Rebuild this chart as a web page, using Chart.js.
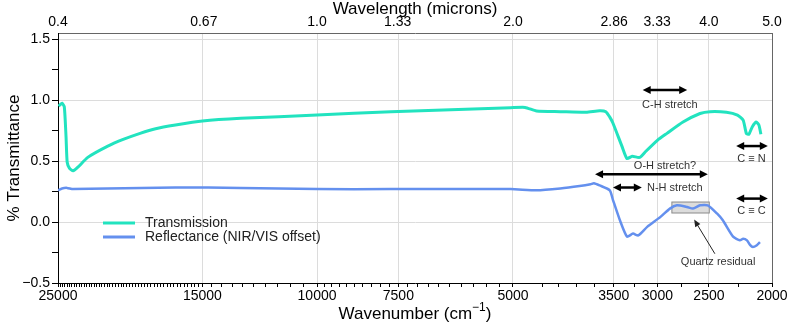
<!DOCTYPE html>
<html>
<head>
<meta charset="utf-8">
<script src="https://cdn.jsdelivr.net/npm/chart.js@4.4.0/dist/chart.umd.min.js"></script>
<style>
  html, body { margin: 0; padding: 0; background: #fff; }
</style>
</head>
<body>
<canvas id="graficoEspectro" width="789" height="327"></canvas>
<script>
const transWn = [24950, 24820, 24650, 24450, 24300, 24200, 24000, 23700, 23300, 22500, 21000, 19900, 18700, 17700, 16500, 15000, 13100, 10000, 7700, 5040, 4790, 4600, 4230, 3860, 3680, 3600, 3550, 3510, 3400, 3340, 3280, 3220, 3190, 3130, 3000, 2900, 2740, 2580, 2490, 2350, 2260, 2215, 2190, 2170, 2145, 2115, 2095, 2080];
const transVal = [0.95, 0.96, 0.975, 0.945, 0.70, 0.49, 0.44, 0.42, 0.45, 0.53, 0.62, 0.675, 0.727, 0.765, 0.795, 0.828, 0.85, 0.877, 0.905, 0.937, 0.94, 0.91, 0.905, 0.90, 0.913, 0.905, 0.86, 0.81, 0.62, 0.52, 0.54, 0.53, 0.53, 0.576, 0.67, 0.727, 0.82, 0.89, 0.905, 0.90, 0.877, 0.836, 0.727, 0.72, 0.78, 0.82, 0.795, 0.72];

const reflWn = [25000, 24650, 24220, 23700, 16500, 13100, 10000, 7700, 5040, 4600, 4230, 3950, 3800, 3755, 3680, 3550, 3510, 3425, 3340, 3270, 3210, 3110, 2970, 2870, 2800, 2700, 2645, 2580, 2510, 2430, 2380, 2295, 2240, 2215, 2185, 2160, 2140, 2110, 2087];
const reflVal = [0.26, 0.275, 0.28, 0.27, 0.283, 0.28, 0.27, 0.27, 0.27, 0.26, 0.275, 0.295, 0.31, 0.318, 0.30, 0.26, 0.18, 0.014, -0.12, -0.095, -0.11, -0.04, 0.04, 0.11, 0.137, 0.123, 0.11, 0.137, 0.137, 0.07, 0.014, -0.12, -0.15, -0.137, -0.15, -0.19, -0.205, -0.19, -0.165];

// Eixos
const wnTicks = [25000, 15000, 10000, 7500, 5000, 3500, 3000, 2500, 2000];
const wlLabels = ["0.4", "0.67", "1.0", "1.33", "2.0", "2.86", "3.33", "4.0", "5.0"];
const yTicks = [-0.5, 0, 0.5, 1.0, 1.5];
const yMinor = [-0.25, 0.25, 0.75, 1.25];

const wnMinor = [];
for (let v = 24800; v > 15000; v -= 200) wnMinor.push(v);
for (let v = 14500; v > 10000; v -= 500) wnMinor.push(v);
for (let v = 9750; v > 7500; v -= 250) wnMinor.push(v);
for (let v = 7250; v > 5000; v -= 250) wnMinor.push(v);
wnMinor.push(4500, 4250, 4000, 3750, 3250, 2750, 2250);

// Anotações (coordenadas de dados)
const setas = [
  { de: 3160, ate: 2700, y: 1.083 },
  { de: 2270, ate: 2030, y: 0.623 },
  { de: 3740, ate: 2510, y: 0.392 },
  { de: 3510, ate: 3170, y: 0.283 },
  { de: 2270, ate: 2030, y: 0.192 },
];
const rotulos = [
  { texto: "C-H stretch", x: 2870, y: 0.96, align: "center" },
  { texto: "C \u2261 N", x: 2150, y: 0.516, align: "center" },
  { texto: "O-H stretch?", x: 2920, y: 0.458, align: "center" },
  { texto: "N-H stretch", x: 3112, y: 0.283, align: "left" },
  { texto: "C \u2261 C", x: 2150, y: 0.09, align: "center" },
  { texto: "Quartz residual", x: 2420, y: -0.33, align: "center" },
];
const caixaQuartzo = { x1: 2850, x2: 2497, y1: 0.164, y2: 0.074 };
const ponteiro = { x1: 2448, y1: -0.26, x2: 2634, y2: 0.02 };

const corTrans = "#22e3bf";
const corRefl = "#6490ee";
const fonte = "'Liberation Sans', Arial, sans-serif";

const xAll = wnTicks.concat(wnMinor).sort((a, b) => b - a);
const topTicks = wlLabels.map((l) => 1e4 / parseFloat(l));

function cabeca(ctx, x, y, ang, len, half) {
  ctx.beginPath();
  ctx.moveTo(x, y);
  ctx.lineTo(x - len * Math.cos(ang) + half * Math.sin(ang), y - len * Math.sin(ang) - half * Math.cos(ang));
  ctx.lineTo(x - len * Math.cos(ang) - half * Math.sin(ang), y - len * Math.sin(ang) + half * Math.cos(ang));
  ctx.closePath();
  ctx.fill();
}

const fundoPlugin = {
  id: "fundo",
  beforeDatasetsDraw(chart) {
    const { ctx, scales: { x, y } } = chart;
    const bx1 = x.getPixelForValue(caixaQuartzo.x1);
    const bx2 = x.getPixelForValue(caixaQuartzo.x2);
    const by1 = y.getPixelForValue(caixaQuartzo.y1);
    const by2 = y.getPixelForValue(caixaQuartzo.y2);
    ctx.save();
    ctx.fillStyle = "#dcdcdc";
    ctx.fillRect(bx1, by1, bx2 - bx1, by2 - by1);
    ctx.strokeStyle = "#8a8a8a";
    ctx.lineWidth = 1;
    ctx.strokeRect(bx1, by1, bx2 - bx1, by2 - by1);
    ctx.restore();
  },
};

const anotacoesPlugin = {
  id: "anotacoes",
  afterDraw(chart) {
    const { ctx, chartArea: area, scales: { x, y } } = chart;
    ctx.save();

    // moldura direita
    ctx.strokeStyle = "#666";
    ctx.lineWidth = 1;
    ctx.beginPath();
    ctx.moveTo(area.right + 0.5, area.top);
    ctx.lineTo(area.right + 0.5, area.bottom);
    ctx.stroke();

    // setas duplas
    ctx.strokeStyle = "#000";
    ctx.fillStyle = "#000";
    setas.forEach((s) => {
      const xa = x.getPixelForValue(s.de);
      const xb = x.getPixelForValue(s.ate);
      const yy = y.getPixelForValue(s.y);
      ctx.lineWidth = 2.5;
      ctx.beginPath();
      ctx.moveTo(xa + 5, yy);
      ctx.lineTo(xb - 5, yy);
      ctx.stroke();
      cabeca(ctx, xa, yy, Math.PI, 8, 4);
      cabeca(ctx, xb, yy, 0, 8, 4);
    });

    // ponteiro do quartzo
    const px1 = x.getPixelForValue(ponteiro.x1);
    const py1 = y.getPixelForValue(ponteiro.y1);
    const px2 = x.getPixelForValue(ponteiro.x2);
    const py2 = y.getPixelForValue(ponteiro.y2);
    const ang = Math.atan2(py2 - py1, px2 - px1);
    ctx.lineWidth = 1;
    ctx.strokeStyle = "#222";
    ctx.fillStyle = "#222";
    ctx.beginPath();
    ctx.moveTo(px1, py1);
    ctx.lineTo(px2 - 5 * Math.cos(ang), py2 - 5 * Math.sin(ang));
    ctx.stroke();
    cabeca(ctx, px2, py2, ang, 7, 3);

    // rótulos
    ctx.font = "11px " + fonte;
    ctx.fillStyle = "#333";
    ctx.textBaseline = "middle";
    rotulos.forEach((r) => {
      ctx.textAlign = r.align;
      ctx.fillText(r.texto, x.getPixelForValue(r.x), y.getPixelForValue(r.y));
    });

    // legenda
    const itens = [
      { nome: "Transmission", cor: corTrans, yy: 223 },
      { nome: "Reflectance (NIR/VIS offset)", cor: corRefl, yy: 237 },
    ];
    ctx.font = "14px " + fonte;
    ctx.textAlign = "left";
    ctx.fillStyle = "#222";
    itens.forEach((it) => {
      ctx.strokeStyle = it.cor;
      ctx.lineWidth = 3;
      ctx.beginPath();
      ctx.moveTo(103, it.yy);
      ctx.lineTo(135, it.yy);
      ctx.stroke();
      ctx.fillText(it.nome, 145, it.yy);
    });

    // títulos dos eixos
    const cx = (area.left + area.right) / 2;
    ctx.fillStyle = "#000";
    ctx.font = "17px " + fonte;
    ctx.textAlign = "center";
    ctx.fillText("Wavelength (microns)", cx, 9);

    const t1 = "Wavenumber (cm";
    const sup = "\u22121";
    const t2 = ")";
    ctx.font = "17px " + fonte;
    const w1 = ctx.measureText(t1).width;
    const w3 = ctx.measureText(t2).width;
    ctx.font = "12px " + fonte;
    const w2 = ctx.measureText(sup).width;
    let sx = cx - (w1 + w2 + w3) / 2;
    ctx.textAlign = "left";
    ctx.font = "17px " + fonte;
    ctx.fillText(t1, sx, 314);
    ctx.font = "12px " + fonte;
    ctx.fillText(sup, sx + w1, 308);
    ctx.font = "17px " + fonte;
    ctx.fillText(t2, sx + w1 + w2, 314);

    ctx.translate(14, (area.top + area.bottom) / 2);
    ctx.rotate(-Math.PI / 2);
    ctx.textAlign = "center";
    ctx.fillText("% Transmittance", 0, 0);

    ctx.restore();
  },
};

const ctxEspectro = document.getElementById("graficoEspectro").getContext("2d");

new Chart(ctxEspectro, {
  type: "line",
  data: {
    datasets: [
      {
        label: "Transmission",
        data: transWn.map((w, i) => ({ x: w, y: transVal[i] })),
        borderColor: corTrans,
        borderWidth: 3,
        pointRadius: 0,
        tension: 0.2,
        fill: false,
      },
      {
        label: "Reflectance (NIR/VIS offset)",
        data: reflWn.map((w, i) => ({ x: w, y: reflVal[i] })),
        borderColor: corRefl,
        borderWidth: 2.5,
        pointRadius: 0,
        tension: 0.2,
        fill: false,
      },
    ],
  },
  options: {
    responsive: false,
    animation: false,
    devicePixelRatio: 1,
    layout: { padding: { top: 0, right: 17, bottom: 0, left: 0 } },
    plugins: {
      legend: { display: false },
      tooltip: { enabled: false },
    },
    scales: {
      x: {
        type: "logarithmic",
        position: "bottom",
        reverse: true,
        min: 2000,
        max: 25000,
        afterBuildTicks: (axis) => {
          axis.ticks = xAll.map((v) => ({ value: v }));
        },
        afterFit: (axis) => {
          axis.height = 44;
        },
        ticks: {
          autoSkip: false,
          maxRotation: 0,
          minRotation: 0,
          padding: 1,
          color: "#000",
          font: { family: fonte, size: 14 },
          callback: (v) => (wnTicks.includes(v) ? String(v) : ""),
        },
        grid: {
          color: (c) => (c.tick && wnTicks.includes(c.tick.value) ? "#dcdcdc" : "rgba(0,0,0,0)"),
          tickColor: "#000",
          tickLength: 4,
        },
        border: { color: "#000", width: 1 },
      },
      x2: {
        type: "logarithmic",
        position: "top",
        reverse: true,
        min: 2000,
        max: 25000,
        afterBuildTicks: (axis) => {
          axis.ticks = topTicks.map((v) => ({ value: v }));
        },
        afterFit: (axis) => {
          axis.height = 33;
        },
        ticks: {
          autoSkip: false,
          maxRotation: 0,
          minRotation: 0,
          padding: 2,
          color: "#000",
          font: { family: fonte, size: 14 },
          callback: (v, i) => wlLabels[i],
        },
        grid: { drawOnChartArea: false, drawTicks: false },
        border: { color: "#666", width: 1 },
      },
      y: {
        type: "linear",
        min: -0.5,
        max: 1.55,
        afterBuildTicks: (axis) => {
          axis.ticks = yTicks.concat(yMinor).sort((a, b) => a - b).map((v) => ({ value: v }));
        },
        afterFit: (axis) => {
          axis.width = 58;
        },
        ticks: {
          autoSkip: false,
          padding: 2,
          color: "#000",
          font: { family: fonte, size: 14 },
          callback: (v) => (yTicks.includes(v) ? (v < 0 ? "\u2212" : "") + Math.abs(v).toFixed(1) : ""),
        },
        grid: {
          color: (c) => (c.tick && yTicks.includes(c.tick.value) ? "#dcdcdc" : "rgba(0,0,0,0)"),
          tickColor: "#000",
          tickLength: 6,
        },
        border: { color: "#000", width: 1 },
      },
    },
  },
  plugins: [fundoPlugin, anotacoesPlugin],
});
</script>
</body>
</html>
